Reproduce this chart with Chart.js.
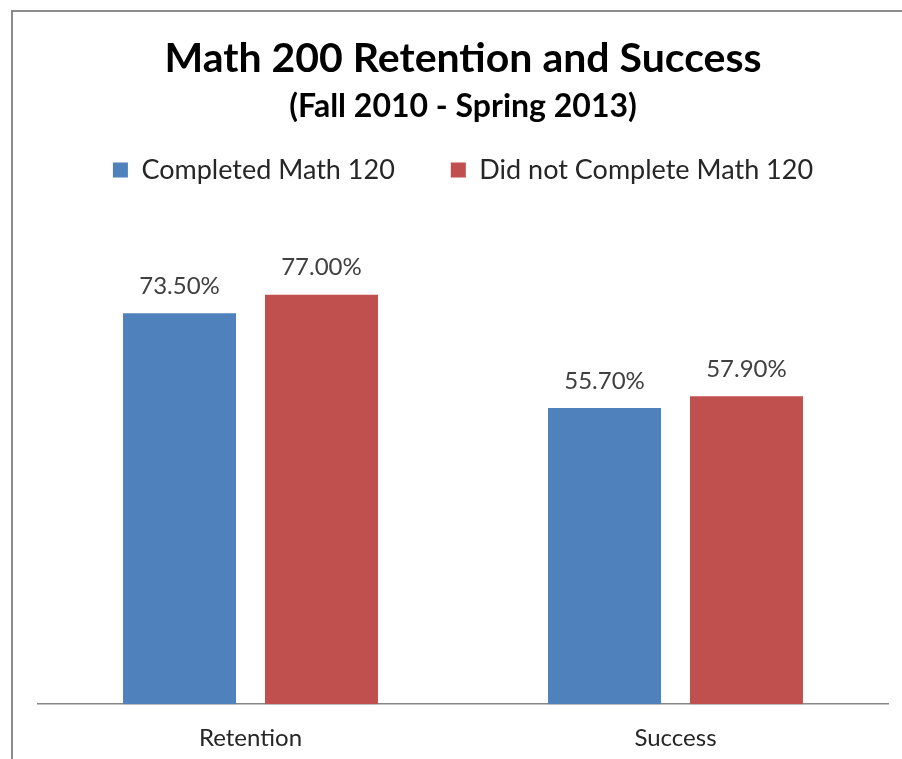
<!DOCTYPE html>
<html>
<head>
<meta charset="utf-8">
<script src="https://cdn.jsdelivr.net/npm/chart.js@4.4.1/dist/chart.umd.min.js"></script>
<style>
  html, body { margin: 0; padding: 0; background: #fff; }
  #wrap { position: relative; width: 902px; height: 759px; }
  #frame { position: absolute; left: 11px; top: 10px; right: 0; bottom: 0;
           border-left: 2px solid #8c8c8c; border-top: 2px solid #8c8c8c; pointer-events: none; }
  canvas { position: absolute; left: 0; top: 0; }
</style>
</head>
<body>
<div id="wrap">
  <canvas id="chart" width="902" height="759"></canvas>
  <div id="frame"></div>
</div>
<script>
/* Math 200 retention / success bar chart */
const categories = ['Retention', 'Success'];
const completedMath120 = [73.5, 55.7];
const notCompletedMath120 = [77.0, 57.9];
const seriesNames = ['Completed Math 120', 'Did not Complete Math 120'];

const FONT = 'Lato, "Open Sans", sans-serif';
const TEXT = '#262626';

// value labels above each bar
const barLabels = {
  id: 'barLabels',
  afterDatasetsDraw(chart) {
    const ctx = chart.ctx;
    ctx.save();
    ctx.font = `24px ${FONT}`;
    ctx.fillStyle = '#404040';
    ctx.textAlign = 'center';
    ctx.textBaseline = 'bottom';
    chart.data.datasets.forEach((ds, i) => {
      chart.getDatasetMeta(i).data.forEach((bar, j) => {
        ctx.fillText(ds.data[j].toFixed(2) + '%', bar.x, bar.y - 15);
      });
    });
    ctx.restore();
  }
};

new Chart(document.getElementById('chart'), {
  type: 'bar',
  data: {
    labels: categories,
    datasets: [
      { label: seriesNames[0], data: completedMath120, backgroundColor: '#4f81bd' },
      { label: seriesNames[1], data: notCompletedMath120, backgroundColor: '#c0504d' }
    ]
  },
  options: {
    responsive: false,
    animation: false,
    categoryPercentage: 0.668,
    barPercentage: 0.796,
    layout: { padding: { left: 38, right: 14, top: 0, bottom: -6 } },
    scales: {
      x: {
        grid: { display: false },
        border: { display: true, color: '#868686', width: 1.5 },
        ticks: { color: TEXT, padding: 12, font: { family: FONT, size: 24 } }
      },
      y: { display: false, min: 0, max: 96 }
    },
    plugins: {
      title: {
        display: true,
        text: 'Math 200 Retention and Success',
        color: '#000',
        font: { family: FONT, size: 41, weight: 'bold' },
        padding: { top: 34, bottom: 4 }
      },
      subtitle: {
        display: true,
        text: '(Fall 2010 - Spring 2013)',
        color: '#000',
        font: { family: FONT, size: 32, weight: 'bold' },
        padding: { top: 0, bottom: -25 }
      },
      legend: {
        labels: {
          color: TEXT,
          boxWidth: 15,
          boxHeight: 15,
          padding: 56,
          font: { family: FONT, size: 27 }
        }
      },
      tooltip: { enabled: false }
    }
  },
  plugins: [barLabels]
});
</script>
</body>
</html>
